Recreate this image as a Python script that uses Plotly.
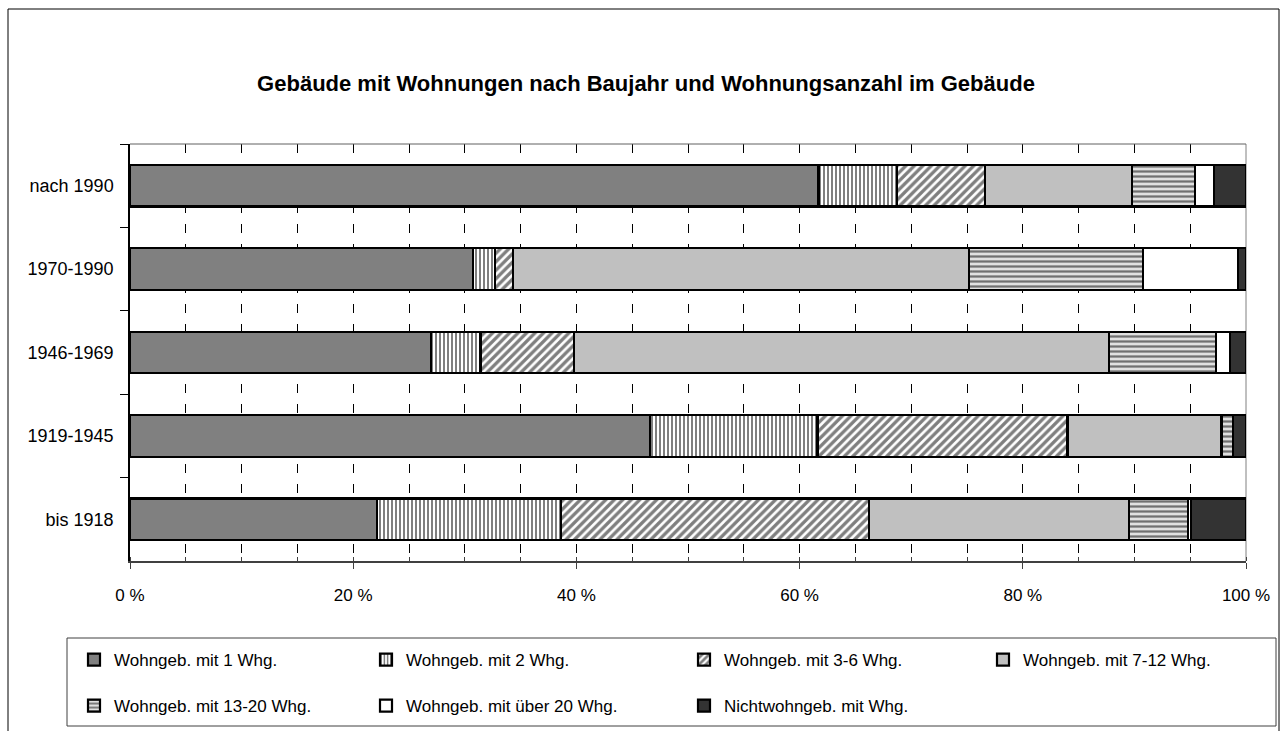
import plotly.graph_objects as go

categories = ["nach 1990", "1970-1990", "1946-1969", "1919-1945", "bis 1918"]
series_names = [
    "Wohngeb. mit 1 Whg.",
    "Wohngeb. mit 2 Whg.",
    "Wohngeb. mit 3-6 Whg.",
    "Wohngeb. mit 7-12 Whg.",
    "Wohngeb. mit 13-20 Whg.",
    "Wohngeb. mit über 20 Whg.",
    "Nichtwohngeb. mit Whg.",
]
whg_1 = [61.7, 30.7, 27.0, 46.6, 22.1]
whg_2 = [7.0, 2.0, 4.4, 15.0, 16.5]
whg_3_6 = [7.9, 1.6, 8.4, 22.4, 27.6]
whg_7_12 = [13.2, 40.9, 47.9, 13.8, 23.3]
whg_13_20 = [5.6, 15.6, 9.6, 1.0, 5.3]
whg_ueber_20 = [1.7, 8.5, 1.3, 0.0, 0.3]
nichtwohngeb = [2.9, 0.7, 1.4, 1.2, 4.9]
x_tick_values = [0, 20, 40, 60, 80, 100]
x_tick_labels = ["0 %", "20 %", "40 %", "60 %", "80 %", "100 %"]

series_values = [whg_1, whg_2, whg_3_6, whg_7_12, whg_13_20, whg_ueber_20, nichtwohngeb]

styles = [
    dict(color="#808080", pattern=dict(shape="")),
    dict(color="white", pattern=dict(shape="|", fgcolor="black", bgcolor="white", size=4, solidity=0.5)),
    dict(color="white", pattern=dict(shape="/", fgcolor="black", bgcolor="white", size=6, solidity=0.55)),
    dict(color="#c0c0c0", pattern=dict(shape="")),
    dict(color="white", pattern=dict(shape="-", fgcolor="black", bgcolor="#e0e0e0", size=5, solidity=0.45)),
    dict(color="white", pattern=dict(shape="")),
    dict(color="#333333", pattern=dict(shape="")),
]

FONT = "Liberation Sans, Arial, sans-serif"

W, H = 1287, 731
L, R, T, B = 130, 41, 144, 170
pw, ph = W - L - R, H - T - B

# legend item placement (pixel coords of each entry), row/col grid like the original
legend_pos = [(74, 660), (366, 660), (684, 660), (983, 660),
              (74, 706), (366, 706), (684, 706)]

fig = go.Figure()
legend_layouts = {}
for i, (name, vals) in enumerate(zip(series_names, series_values)):
    st = styles[i]
    lname = "legend" if i == 0 else f"legend{i + 1}"
    fig.add_trace(go.Bar(
        y=categories, x=vals, name=name, orientation="h",
        marker=dict(color=st["color"], pattern=st["pattern"],
                    line=dict(color="black", width=2.2)),
        legend=lname, showlegend=True,
        hoverinfo="name+x",
    ))
    lx, ly = legend_pos[i]
    legend_layouts[lname] = dict(
        orientation="h", xref="container", yref="container",
        x=lx / W, xanchor="left", y=1 - ly / H, yanchor="middle",
        bgcolor="rgba(0,0,0,0)", borderwidth=0, font=dict(size=17, family=FONT),
        itemclick=False, itemdoubleclick=False, visible=True,
    )


def px_x(px):
    return (px - L) / pw


def px_y(py):
    return (H - B - py) / ph


fig.update_layout(
    width=W, height=H,
    showlegend=True,
    margin=dict(l=L, r=R, t=T, b=B, pad=0),
    paper_bgcolor="white", plot_bgcolor="white",
    barmode="stack", bargap=0.5,
    font=dict(family=FONT, size=18, color="black"),
    title=dict(text="<b>Gebäude mit Wohnungen nach Baujahr und Wohnungsanzahl im Gebäude</b>",
               x=646 / W, xanchor="center", y=1 - 83 / H, yanchor="middle",
               xref="container", yref="container",
               font=dict(family=FONT, size=22, color="black")),
    xaxis=dict(
        range=[0, 100], tickmode="array", tickvals=x_tick_values, ticktext=x_tick_labels,
        showline=True, linecolor="#404040", linewidth=2,
        ticks="outside", ticklen=6, tickcolor="#404040", tickwidth=1,
        showgrid=True, gridcolor="black", gridwidth=1, griddash="9px,11px",
        minor=dict(dtick=5, ticks="inside", ticklen=4, tickcolor="#404040",
                   showgrid=True, gridcolor="black", gridwidth=1, griddash="9px,11px"),
        zeroline=False, ticklabelstandoff=12, fixedrange=True,
        tickfont=dict(size=17),
    ),
    yaxis=dict(
        autorange="reversed", type="category",
        showline=True, linecolor="black", linewidth=1.5,
        ticks="outside", tickson="boundaries", ticklen=8, tickcolor="black", tickwidth=1,
        showgrid=False, ticklabelstandoff=11, fixedrange=True,
    ),
    shapes=[
        # outer frame
        dict(type="rect", xref="paper", yref="paper",
             x0=px_x(8), x1=px_x(1279), y0=px_y(740), y1=px_y(9),
             line=dict(color="black", width=1), fillcolor="rgba(0,0,0,0)", layer="below"),
        # plot area top/right border
        dict(type="line", xref="paper", yref="paper", x0=0, x1=1, y0=1, y1=1,
             line=dict(color="#606060", width=1)),
        dict(type="line", xref="paper", yref="paper", x0=1, x1=1, y0=0, y1=1,
             line=dict(color="#808080", width=1), layer="below"),
        # legend box
        dict(type="rect", xref="paper", yref="paper",
             x0=px_x(67), x1=px_x(1276), y0=px_y(726), y1=px_y(638),
             line=dict(color="#404040", width=1), fillcolor="rgba(0,0,0,0)"),
    ],
    **legend_layouts,
)

fig.write_html("out.html", config={"displayModeBar": False},
               post_script="document.body.style.margin='0';document.body.style.overflow='hidden';")
